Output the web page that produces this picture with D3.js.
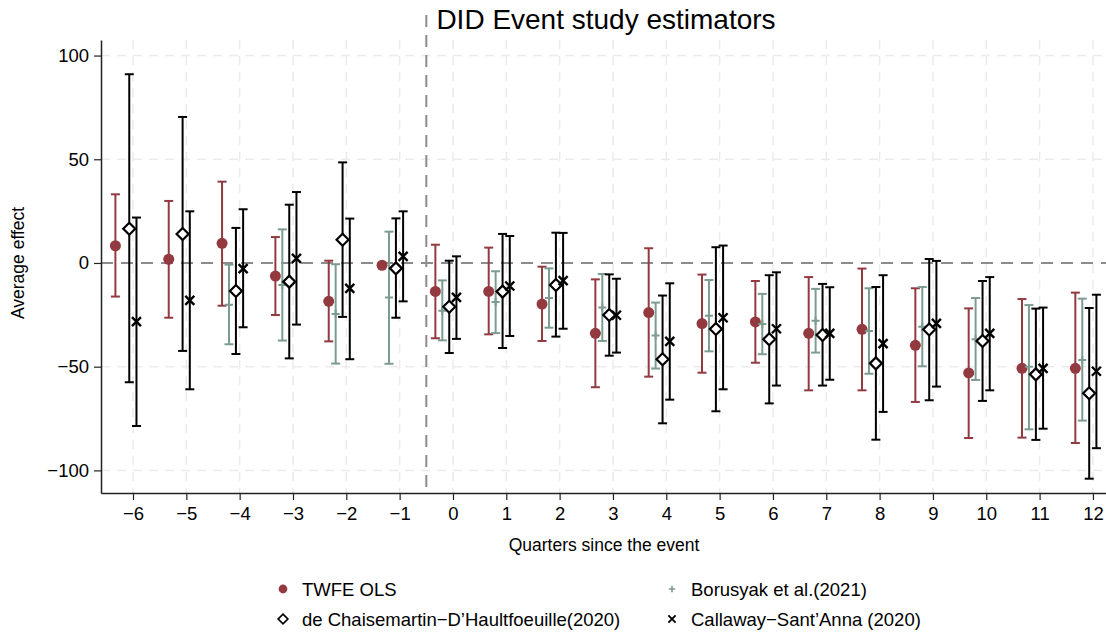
<!DOCTYPE html>
<html>
<head>
<meta charset="utf-8">
<script src="https://cdn.jsdelivr.net/npm/d3@7"></script>
<style>
  body { margin: 0; background: #fff; }
  text { font-family: "Liberation Sans", Arial, sans-serif; }
</style>
</head>
<body>
<div id="chart-area"></div>
<script>
// event-time periods
var periods = [-6, -5, -4, -3, -2, -1, 0, 1, 2, 3, 4, 5, 6, 7, 8, 9, 10, 11, 12];

// TWFE OLS
var twfeEst = [8.3, 1.8, 9.5, -6.3, -18.5, -1.1, -13.7, -13.7, -19.8, -33.9, -23.9, -29.2, -28.4, -33.9, -32.0, -39.7, -53.0, -50.8, -50.8];
var twfeLo  = [-16.2, -26.4, -20.6, -25.1, -37.8, -1.1, -36.3, -34.4, -37.6, -59.9, -54.8, -52.9, -48.1, -61.4, -61.4, -67.0, -84.4, -84.2, -86.8];
var twfeHi  = [33.1, 29.9, 39.2, 12.5, 1.1, -1.1, 8.8, 7.4, -1.8, -7.9, 7.1, -5.6, -8.7, -6.8, -2.7, -12.2, -21.9, -17.4, -14.3];

// Borusyak et al. (no estimate at -6, -5)
var borEst = [null, null, -20.2, -10.6, -24.6, -16.7, -23.0, -18.8, -16.9, -21.5, -35.0, -25.4, -29.4, -27.8, -32.8, -30.7, -36.8, -50.0, -46.8];
var borLo  = [null, null, -39.2, -37.4, -48.5, -48.6, -37.3, -33.8, -31.2, -37.6, -50.9, -42.6, -44.0, -43.2, -53.4, -49.8, -56.4, -80.2, -76.0];
var borHi  = [null, null, -0.8, 16.2, -0.6, 15.1, -8.4, -4.0, -2.6, -5.3, -19.1, -8.2, -14.9, -12.5, -12.2, -11.6, -16.9, -20.3, -17.2];

// de Chaisemartin-D'Haultfoeuille
var dcdhEst = [16.5, 14.0, -13.5, -9.0, 11.2, -2.6, -21.1, -13.8, -10.6, -25.1, -46.4, -31.8, -36.8, -34.7, -48.4, -32.1, -37.6, -53.7, -62.8];
var dcdhLo  = [-57.5, -42.4, -43.9, -46.0, -26.0, -26.4, -43.4, -41.0, -35.5, -44.7, -77.3, -71.5, -67.7, -59.1, -85.2, -66.2, -66.5, -85.3, -104.0];
var dcdhHi  = [91.0, 70.4, 16.9, 28.1, 48.5, 21.5, 1.1, 14.0, 14.6, -5.5, -15.7, 7.6, -5.9, -10.1, -11.6, 1.9, -8.7, -22.0, -21.7];

// Callaway-Sant'Anna
var csEst = [-28.3, -18.0, -2.7, 2.2, -12.2, 3.2, -16.6, -11.1, -8.5, -25.2, -37.8, -26.4, -31.7, -33.9, -38.9, -29.1, -33.9, -50.8, -52.2];
var csLo  = [-78.6, -60.9, -31.0, -29.7, -46.4, -18.5, -36.6, -35.2, -31.7, -43.2, -65.9, -60.9, -59.1, -56.3, -71.8, -59.6, -61.4, -79.9, -89.3];
var csHi  = [21.9, 24.9, 25.9, 34.2, 21.4, 24.9, 3.2, 13.0, 14.5, -7.6, -9.8, 8.4, -4.5, -11.7, -5.9, 1.0, -6.8, -21.5, -15.3];

var yTicks = [-100, -50, 0, 50, 100];

var W = 1106, H = 634;
var pLeft = 101, pRight = 1106, pTop = 40, pBottom = 493;

var svg = d3.select("#chart-area").append("svg")
    .attr("width", W)
    .attr("height", H);

var x = d3.scaleLinear()
    .domain([-6.6, 12.245])
    .range([pLeft, pRight]);

var y = d3.scaleLinear()
    .domain([-110.9, 107.5])
    .range([pBottom, pTop]);

var red = "#923a40", green = "#7d9c91";

// grid
svg.append("g").selectAll("line")
    .data(periods).enter().append("line")
    .attr("x1", d => x(d)).attr("x2", d => x(d))
    .attr("y1", pTop).attr("y2", pBottom)
    .attr("stroke", "#ebebeb").attr("stroke-width", 1.5)
    .attr("stroke-dasharray", "9,7");
svg.append("g").selectAll("line")
    .data(yTicks.filter(d => d != 0)).enter().append("line")
    .attr("x1", pLeft).attr("x2", pRight)
    .attr("y1", d => y(d)).attr("y2", d => y(d))
    .attr("stroke", "#ebebeb").attr("stroke-width", 1.5)
    .attr("stroke-dasharray", "9,7");

// reference lines
svg.append("line")
    .attr("x1", pLeft).attr("x2", pRight)
    .attr("y1", y(0)).attr("y2", y(0))
    .attr("stroke", "#8c8c8c").attr("stroke-width", 2)
    .attr("stroke-dasharray", "12,8");
svg.append("line")
    .attr("x1", x(-0.5)).attr("x2", x(-0.5))
    .attr("y1", pTop - 25).attr("y2", pBottom)
    .attr("stroke", "#8c8c8c").attr("stroke-width", 2)
    .attr("stroke-dasharray", "12,8");

// axes
var xAxis = d3.axisBottom(x).tickValues(periods).tickSize(7).tickSizeOuter(0).tickPadding(7)
    .tickFormat(d => d < 0 ? "\u2212" + Math.abs(d) : d);
svg.append("g")
    .attr("transform", "translate(0," + pBottom + ")")
    .call(xAxis)
    .call(g => g.select(".domain").attr("stroke", "#222").attr("stroke-width", 1.5))
    .call(g => g.selectAll(".tick line").attr("stroke", "#222").attr("stroke-width", 1.2))
    .selectAll("text").attr("font-size", "18.5px").attr("fill", "#000");

var yAxis = d3.axisLeft(y).tickValues(yTicks).tickSize(7).tickSizeOuter(0).tickPadding(5)
    .tickFormat(d => d < 0 ? "\u2212" + Math.abs(d) : d);
svg.append("g")
    .attr("transform", "translate(" + pLeft + ",0)")
    .call(yAxis)
    .call(g => g.select(".domain").attr("stroke", "#222").attr("stroke-width", 1.5))
    .call(g => g.selectAll(".tick line").attr("stroke", "#222").attr("stroke-width", 1.2))
    .selectAll("text").attr("font-size", "18.5px").attr("fill", "#000");

// build series
function rows(est, lo, hi) {
    return periods.map((p, i) => ({p: p, e: est[i], lo: lo[i], hi: hi[i]}))
        .filter(d => d.e !== null);
}
var series = [
    {name: "twfe", off: -0.33, color: red, data: rows(twfeEst, twfeLo, twfeHi)},
    {name: "bor", off: -0.2, color: green, data: rows(borEst, borLo, borHi)},
    {name: "dcdh", off: -0.07, color: "#000", data: rows(dcdhEst, dcdhLo, dcdhHi)},
    {name: "cs", off: 0.065, color: "#000", data: rows(csEst, csLo, csHi)}
];

var cap = 4.5;
series.forEach(s => {
    var g = svg.append("g");
    var ci = s.data.filter(d => d.hi - d.lo > 0.01);
    g.selectAll("line.v").data(ci).enter().append("line")
        .attr("x1", d => x(d.p + s.off)).attr("x2", d => x(d.p + s.off))
        .attr("y1", d => y(d.lo)).attr("y2", d => y(d.hi))
        .attr("stroke", s.color).attr("stroke-width", 2);
    ["lo", "hi"].forEach(k => {
        g.selectAll("line.c" + k).data(ci).enter().append("line")
            .attr("x1", d => x(d.p + s.off) - cap).attr("x2", d => x(d.p + s.off) + cap)
            .attr("y1", d => y(d[k])).attr("y2", d => y(d[k]))
            .attr("stroke", s.color).attr("stroke-width", 2);
    });
    var pts = g.selectAll("g.m").data(s.data).enter().append("g")
        .attr("transform", d => "translate(" + x(d.p + s.off) + "," + y(d.e) + ")");
    marker(pts, s.name, s.color);
});

function marker(sel, name, color) {
    if (name == "twfe") {
        sel.append("circle").attr("r", 5.5).attr("fill", color);
    } else if (name == "bor") {
        sel.append("path").attr("d", "M-4,0H4M0,-4V4")
            .attr("stroke", color).attr("stroke-width", 2);
    } else if (name == "dcdh") {
        sel.append("path").attr("d", "M0,-6L6,0L0,6L-6,0Z")
            .attr("fill", "#fff").attr("stroke", color).attr("stroke-width", 2.2);
    } else {
        sel.append("path").attr("d", "M-4.5,-4.5L4.5,4.5M-4.5,4.5L4.5,-4.5")
            .attr("stroke", color).attr("stroke-width", 2.4);
    }
}

// titles
svg.append("text")
    .attr("x", 606).attr("y", 29)
    .attr("text-anchor", "middle").attr("font-size", "28px")
    .text("DID Event study estimators");

svg.append("text")
    .attr("x", 604).attr("y", 551)
    .attr("text-anchor", "middle").attr("font-size", "17.5px")
    .text("Quarters since the event");

svg.append("text")
    .attr("transform", "translate(24," + y(0) + ") rotate(-90)")
    .attr("text-anchor", "middle").attr("font-size", "17.5px")
    .text("Average effect");

// legend
var legend = [
    {name: "twfe", color: red, label: "TWFE OLS", lx: 283, ly: 589},
    {name: "bor", color: green, label: "Borusyak et al.(2021)", lx: 672, ly: 589},
    {name: "dcdh", color: "#000", label: "de Chaisemartin\u2212D\u2019Haultfoeuille(2020)", lx: 283, ly: 619},
    {name: "cs", color: "#000", label: "Callaway\u2212Sant\u2019Anna (2020)", lx: 672, ly: 619}
];
legend.forEach(l => {
    var g = svg.append("g").attr("transform", "translate(" + l.lx + "," + l.ly + ")");
    var m = g.append("g").attr("transform", "scale(0.8)");
    marker(m, l.name, l.color);
    g.append("text").attr("x", 19).attr("y", 6.5)
        .attr("font-size", "18.5px").text(l.label);
});
</script>
</body>
</html>
